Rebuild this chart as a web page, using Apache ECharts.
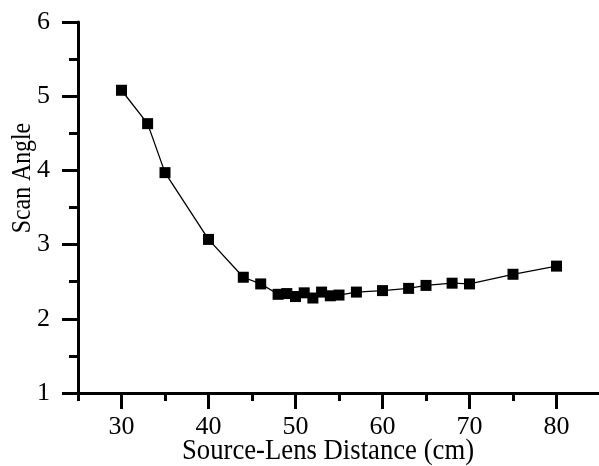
<!DOCTYPE html>
<html>
<head>
<meta charset="utf-8">
<script src="https://cdn.jsdelivr.net/npm/echarts@6/dist/echarts.min.js"></script>
<style>
  html, body { margin: 0; padding: 0; background: #fff; }
  #chart { width: 599px; height: 466px; }
</style>
</head>
<body>
<div id="chart"></div>
<script>
// Source-lens distance (cm) and measured scan angle
const distances = [30, 33, 35, 40, 44, 46, 48, 49, 50, 51, 52, 53, 54, 55, 57, 60, 63, 65, 68, 70, 75, 80];
const scanAngles = [5.08, 4.63, 3.97, 3.07, 2.56, 2.47, 2.33, 2.34, 2.30, 2.35, 2.28, 2.36, 2.31, 2.32, 2.36, 2.38, 2.41, 2.45, 2.48, 2.47, 2.60, 2.71];
const xMajorTicks = [30, 40, 50, 60, 70, 80];
const xTitle = 'Source-Lens Distance (cm)';
const yTitle = 'Scan Angle';

const serif = '"Liberation Serif", "Times New Roman", serif';
const points = distances.map((d, i) => [d, scanAngles[i]]);

const chart = echarts.init(document.getElementById('chart'), null, { renderer: 'canvas' });
chart.setOption({
  backgroundColor: '#fff',
  animation: false,
  grid: { left: 78, top: 22, width: 522, height: 371, outerBoundsMode: 'none', containLabel: false },
  // axis titles, set in a slightly condensed serif
  graphic: [
    {
      type: 'text', x: 328, y: 451, scaleX: 0.89, silent: true,
      style: { text: xTitle, font: '30px ' + serif, fill: '#000', align: 'center', verticalAlign: 'middle' }
    },
    {
      type: 'text', x: 23, y: 178, rotation: Math.PI / 2, scaleX: 0.85, silent: true,
      style: { text: yTitle, font: '28px ' + serif, fill: '#000', align: 'center', verticalAlign: 'middle' }
    }
  ],
  xAxis: [
    {
      type: 'value', min: 25, max: 85, interval: 5,
      axisLine: { show: true, lineStyle: { color: '#000', width: 3 } },
      axisTick: { show: true, customValues: xMajorTicks, length: 16, lineStyle: { color: '#000', width: 3 } },
      axisLabel: { customValues: xMajorTicks, margin: 21, fontFamily: serif, fontSize: 26, color: '#000' },
      splitLine: { show: false }
    },
    {
      // half-step ticks along the same axis
      type: 'value', min: 25, max: 85, interval: 5, position: 'bottom',
      axisLine: { show: false },
      axisTick: { show: true, length: 8, lineStyle: { color: '#000', width: 3 } },
      axisLabel: { show: false },
      splitLine: { show: false }
    }
  ],
  yAxis: {
    type: 'value', min: 1, max: 6, interval: 1,
    axisLine: { show: true, lineStyle: { color: '#000', width: 3 } },
    axisTick: { show: true, length: 16, lineStyle: { color: '#000', width: 3 } },
    minorTick: { show: true, splitNumber: 2, length: 9, lineStyle: { color: '#000', width: 3 } },
    axisLabel: { margin: 28, fontFamily: serif, fontSize: 26, color: '#000' },
    splitLine: { show: false },
    minorSplitLine: { show: false }
  },
  series: [{
    type: 'line',
    xAxisIndex: 0,
    data: points,
    symbol: 'rect',
    symbolSize: 11,
    itemStyle: { color: '#000' },
    lineStyle: { color: '#000', width: 1.3 }
  }]
});
</script>
</body>
</html>
